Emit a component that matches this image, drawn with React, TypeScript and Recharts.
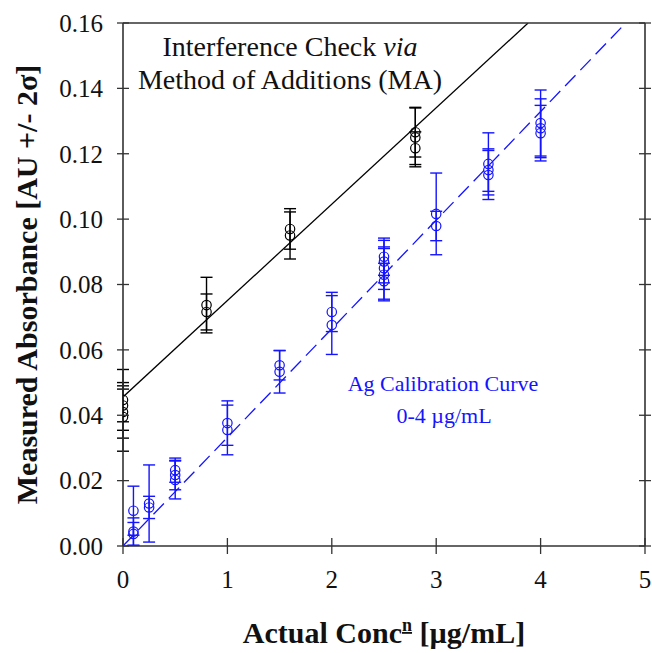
import { ComposedChart, ErrorBar, Line, Scatter, XAxis, YAxis } from 'recharts'

const xTicks = [0, 1, 2, 3, 4, 5]
const yTicks = [0, 0.02, 0.04, 0.06, 0.08, 0.1, 0.12, 0.14, 0.16]

// interference check via method of additions (black)
const maConc = [0, 0, 0, 0, 0.8, 0.8, 1.6, 1.6, 2.8, 2.8, 2.8]
const maAbs = [0.0447, 0.043, 0.041, 0.0395, 0.0737, 0.0716, 0.097, 0.095, 0.1266, 0.125, 0.1217]
const maErr = [0.0093, 0.005, 0.008, 0.0105, 0.0085, 0.0055, 0.0062, 0.0072, 0.0076, 0.009, 0.005]

// Ag calibration curve 0-4 ug/mL (blue)
const calConc = [0.1, 0.1, 0.1, 0.25, 0.25, 0.5, 0.5, 0.5, 1, 1, 1.5, 1.5, 2, 2, 2.5, 2.5, 2.5, 2.5, 2.5, 3, 3, 3.5, 3.5, 3.5, 4, 4, 4]
const calAbs = [
  0.0108, 0.0044, 0.0037, 0.013, 0.0118, 0.0232, 0.0217, 0.0202, 0.0376, 0.0355, 0.0553, 0.0533, 0.0716, 0.0676,
  0.0885, 0.087, 0.085, 0.083, 0.081, 0.1016, 0.0979, 0.1169, 0.115, 0.1135, 0.1294, 0.1278, 0.1263,
]
const calErr = [
  0.0075, 0.0042, 0.0035, 0.0118, 0.0034, 0.0037, 0.0045, 0.0058, 0.0068, 0.0076, 0.0045, 0.0065, 0.006, 0.009,
  0.0057, 0.0065, 0.0065, 0.008, 0.0055, 0.0125, 0.0045, 0.0095, 0.0065, 0.0075, 0.0101, 0.009, 0.0085,
]

// fit lines, end points
const maFitConc = [0, 3.88]
const maFitAbs = [0.0456, 0.16]
const calFitConc = [0, 4.815]
const calFitAbs = [0, 0.16]

const maRows = maConc.map((x, i) => ({ x, y: maAbs[i], err: maErr[i] }))
const calRows = calConc.map((x, i) => ({ x, y: calAbs[i], err: calErr[i] }))
const maFit = maFitConc.map((x, i) => ({ x, y: maFitAbs[i] }))
const calFit = calFitConc.map((x, i) => ({ x, y: calFitAbs[i] }))

const serif = '"Liberation Serif", "Times New Roman", serif'
const frame = '#333'
const blue = '#1414ff'

const ring = (color: string) => (p: any) => (
  <circle cx={p.cx} cy={p.cy} r={4.7} fill='none' stroke={color} strokeWidth={1.2} />
)

// ticks cross the frame on every side
const BottomTick = (p: any) => (
  <g>
    <line x1={p.x} x2={p.x} y1={p.y - 8} y2={p.y + 8} stroke={frame} strokeWidth={1.3} />
    <text x={p.x} y={p.y + 42} textAnchor='middle' fontFamily={serif} fontSize={25} fill='#111'>
      {p.payload.value}
    </text>
  </g>
)
const LeftTick = (p: any) => (
  <g>
    <line x1={p.x - 6} x2={p.x + 6} y1={p.y} y2={p.y} stroke={frame} strokeWidth={1.3} />
    <text x={p.x - 20} y={p.y} dy='0.35em' textAnchor='end' fontFamily={serif} fontSize={25} fill='#111'>
      {p.payload.value.toFixed(2)}
    </text>
  </g>
)
const TopTick = (p: any) => (
  <line x1={p.x} x2={p.x} y1={p.y - 8} y2={p.y + 8} stroke={frame} strokeWidth={1.3} />
)
const RightTick = (p: any) => (
  <line x1={p.x - 6} x2={p.x + 6} y1={p.y} y2={p.y} stroke={frame} strokeWidth={1.3} />
)

export default function App() {
  return (
    <div style={{ position: 'absolute', left: 0, top: 0 }}>
      <ComposedChart width={652} height={653} margin={{ top: 22, right: 6, bottom: 0, left: 0 }}>
        <XAxis
          type='number'
          dataKey='x'
          domain={[0, 5]}
          ticks={xTicks}
          allowDataOverflow
          height={107}
          tickSize={0}
          tickMargin={0}
          tickLine={false}
          axisLine={{ stroke: frame, strokeWidth: 1.6 }}
          tick={<BottomTick />}
          label={{
            content: ({ viewBox }: any) => (
              <text
                x={viewBox.x + viewBox.width / 2}
                y={viewBox.y + 97}
                textAnchor='middle'
                fontFamily={serif}
                fontSize={30}
                fontWeight='bold'
                fill='#111'
              >
                Actual Conc
                <tspan dy={-12} fontSize={18} textDecoration='underline'>
                  n
                </tspan>
                <tspan dy={12}> [µg/mL]</tspan>
              </text>
            ),
          }}
        />
        <XAxis
          xAxisId='top'
          orientation='top'
          type='number'
          domain={[0, 5]}
          ticks={xTicks}
          allowDataOverflow
          height={1}
          tickSize={0}
          tickMargin={0}
          tickLine={false}
          axisLine={{ stroke: frame, strokeWidth: 1.6 }}
          tick={<TopTick />}
        />
        <YAxis
          type='number'
          dataKey='y'
          domain={[0, 0.16]}
          ticks={yTicks}
          allowDataOverflow
          width={123}
          tickSize={0}
          tickMargin={0}
          tickLine={false}
          axisLine={{ stroke: frame, strokeWidth: 1.6 }}
          tick={<LeftTick />}
          label={{
            content: ({ viewBox }: any) => {
              const cy = viewBox.y + viewBox.height / 2
              return (
                <text
                  x={37}
                  y={cy}
                  transform={`rotate(-90 37 ${cy})`}
                  textAnchor='middle'
                  fontFamily={serif}
                  fontSize={30}
                  fontWeight='bold'
                  fill='#111'
                >
                  Measured Absorbance [AU +/- 2σ]
                </text>
              )
            },
          }}
        />
        <YAxis
          yAxisId='right'
          orientation='right'
          type='number'
          domain={[0, 0.16]}
          ticks={yTicks}
          allowDataOverflow
          width={1}
          tickSize={0}
          tickMargin={0}
          tickLine={false}
          axisLine={{ stroke: frame, strokeWidth: 1.6 }}
          tick={<RightTick />}
        />

        <Line data={calFit} dataKey='y' stroke={blue} strokeWidth={1.3} strokeDasharray='15 7' dot={false} isAnimationActive={false} />
        <Line data={maFit} dataKey='y' stroke='#000' strokeWidth={1.3} dot={false} isAnimationActive={false} />

        <Scatter data={calRows} dataKey='y' shape={ring(blue)} isAnimationActive={false}>
          <ErrorBar dataKey='err' direction='y' width={6} stroke={blue} strokeWidth={1.4} />
        </Scatter>
        <Scatter data={maRows} dataKey='y' shape={ring('#000')} isAnimationActive={false}>
          <ErrorBar dataKey='err' direction='y' width={6} stroke='#000' strokeWidth={1.4} />
        </Scatter>

        <text x={290} y={56} textAnchor='middle' fontFamily={serif} fontSize={28} fill='#111'>
          Interference Check <tspan fontStyle='italic'>via</tspan>
        </text>
        <text x={290} y={89} textAnchor='middle' fontFamily={serif} fontSize={28} fill='#111'>
          Method of Additions (MA)
        </text>
        <text x={443} y={391} textAnchor='middle' fontFamily={serif} fontSize={22} fill={blue}>
          Ag Calibration Curve
        </text>
        <text x={444} y={423} textAnchor='middle' fontFamily={serif} fontSize={22} fill={blue}>
          0-4 µg/mL
        </text>
      </ComposedChart>
    </div>
  )
}
